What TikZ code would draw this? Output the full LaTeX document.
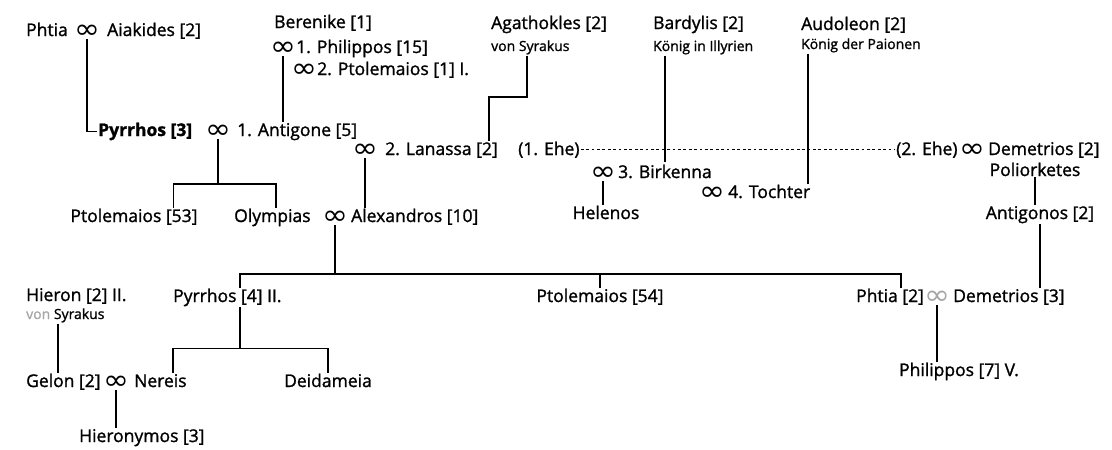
\documentclass[tikz,border=0pt]{standalone}
\usepackage{fontspec}
\setmainfont{Open Sans}[FakeBold=1.3]
\newfontfamily\symfont{DejaVu Sans}
\usetikzlibrary{positioning}

\newcommand{\oo}{\scalebox{1.35}[1.2]{∞}}

\begin{document}
\begin{tikzpicture}[x=1pt, y=-1pt,
  lbl/.style={anchor=base west, inner sep=1pt, font=\fontsize{17.5}{20}\selectfont},
  lblc/.style={lbl, anchor=base},
  sml/.style={lbl, font=\fontsize{14}{16}\selectfont},
  oo/.style={inner sep=0.6pt, font=\symfont\fontsize{23}{23}\selectfont},
  lin/.style={line width=1.4pt},
  ehe/.style={line width=1.4pt, dash pattern=on 2.8pt off 2.6pt}]
\useasboundingbox (0,0) rectangle (1112,450);

% Ahnen oben
\node[lbl] (phtA) at (25,36) {Phtia};
\node[oo] (m1) at (87,31.5) {\oo};
\node[lbl] (aiak) at (106,36) {Aiakides [2]};

\node[lbl] (ber) at (273,28) {Berenike [1]};
\node[oo] (mb1) at (283,48.5) {\oo};
\node[lbl] (phil15) at (295,53) {1. Philippos [15]};
\node[oo] (mb2) at (304,70.5) {\oo};
\node[lbl] (ptol1) at (316,75) {2. Ptolemaios [1] I.};

\node[lbl] (aga) at (490,29) {Agathokles [2]};
\node[sml] (agaS) at (490,51) {von Syrakus};
\node[lbl] (bard) at (652,29) {Bardylis [2]};
\node[sml] (bardS) at (652,51) {König in Illyrien};
\node[lbl] (aud) at (800,30) {Audoleon [2]};
\node[sml] (audS) at (800,49) {König der Paionen};

% Pyrrhos und Ehen
\node[lbl, font=\fontsize{17.5}{20}\selectfont\bfseries] (pyr3) at (97,136) {Pyrrhos [3]};
\node[oo] (m2) at (218,131.5) {\oo};
\node[lbl] (anti) at (236,136) {1. Antigone [5]};

\node[oo] (m3) at (365,150.5) {\oo};
\node[lbl] (lan) at (384,155) {2. Lanassa [2]};
\node[lbl] (ehe1) at (517,155) {(1. Ehe)};
\node[lbl] (ehe2) at (895,155) {(2. Ehe)};
\node[oo] (m4) at (972,150.5) {\oo};
\node[lbl] (dem2) at (987,155) {Demetrios [2]};
\node[lblc] (poli) at (1035,176) {Poliorketes};
\node[lblc] (antg) at (1040,219) {Antigonos [2]};

\node[oo] (m5) at (603,173.5) {\oo};
\node[lbl] (birk) at (617,178) {3. Birkenna};
\node[oo] (m6) at (712,193.5) {\oo};
\node[lbl] (toch) at (727,198) {4. Tochter};
\node[lblc] (hel) at (606,219) {Helenos};

% Kinder
\node[lblc] (ptol53) at (134,222) {Ptolemaios [53]};
\node[lbl] (olym) at (233,222) {Olympias};
\node[oo] (m7) at (335,217.5) {\oo};
\node[lbl] (alex) at (350,222) {Alexandros [10]};

\node[lbl] (pyr4) at (172,302) {Pyrrhos [4] II.};
\node[lblc] (ptol54) at (600,302) {Ptolemaios [54]};
\node[lbl] (phti2) at (855,302) {Phtia [2]};
\node[oo, gray!70] (m9) at (937,297.5) {\oo};
\node[lbl] (dem3) at (952,302) {Demetrios [3]};
\node[lblc] (phil7) at (959,376) {Philippos [7] V.};

\node[lbl] (hier) at (25,301) {Hieron [2] II.};
\node[sml] (hierS) at (25,319) {\textcolor{gray!70}{von} Syrakus};
\node[lbl] (gelon) at (25,387) {Gelon [2]};
\node[oo] (m8) at (116,382.5) {\oo};
\node[lbl] (ner) at (133,387) {Nereis};
\node[lblc] (deid) at (328,387) {Deidameia};
\node[lbl] (hnym) at (78,442) {Hieronymos [3]};

% Linien
\coordinate (a1) at ([xshift=37pt]agaS.south west);
\coordinate (a2) at ([xshift=-10pt]lan.north east);
\coordinate (bx) at ([xshift=13pt]bardS.south west);
\coordinate (t1) at ([xshift=8pt]audS.south west);
\coordinate (h1) at ([xshift=33pt]hierS.south west);
\coordinate (d1) at ([xshift=-25pt]ptol53.north east);
\coordinate (d2) at ([xshift=43pt]olym.north west);
\coordinate (d3) at ([xshift=68pt]pyr4.north west);
\coordinate (d5) at ([xshift=46pt]phti2.north west);
\coordinate (n1) at ([xshift=40pt]ner.north west);

\draw[lin] (m1.south) |- (pyr3.west);
\draw[lin] (mb1.south) -- (mb1.south |- anti.north);
\draw[lin] (a1) |- (a1 |- 0,97) -| (a2);
\draw[lin] (bx |- bardS.south) -- ++(0,106);
\draw[lin] (t1) -- (t1 |- toch.north);
\draw[ehe] (ehe1.east) -- (ehe2.west);

\draw[lin] (m2.south) -- ++(0,45) coordinate (j1);
\draw[lin] (d1) |- (j1) -| (d2);
\draw[lin] (m3.south) -- (m3.south |- alex.north);
\draw[lin] (m5.south) -- (m5.south |- hel.north);
\draw[lin] (poli.south) -- (poli.south |- antg.north);
\draw[lin] (antg.south) -- (antg.south |- dem3.north);

\draw[lin] (m7.south) -- ++(0,49) coordinate (j2);
\draw[lin] (d3) |- (j2) -| (d5);
\draw[lin] (j2 -| ptol54.north) -- (ptol54.north);
\draw[lin] (m9.south) -- (m9.south |- phil7.north);

\draw[lin] (d3 |- pyr4.south) -- ++(0,41) coordinate (j3);
\draw[lin] (n1) |- (j3) -| (deid.north);
\draw[lin] (h1) -- (h1 |- gelon.north);
\draw[lin] (m8.south) -- (m8.south |- hnym.north);
\end{tikzpicture}
\end{document}
